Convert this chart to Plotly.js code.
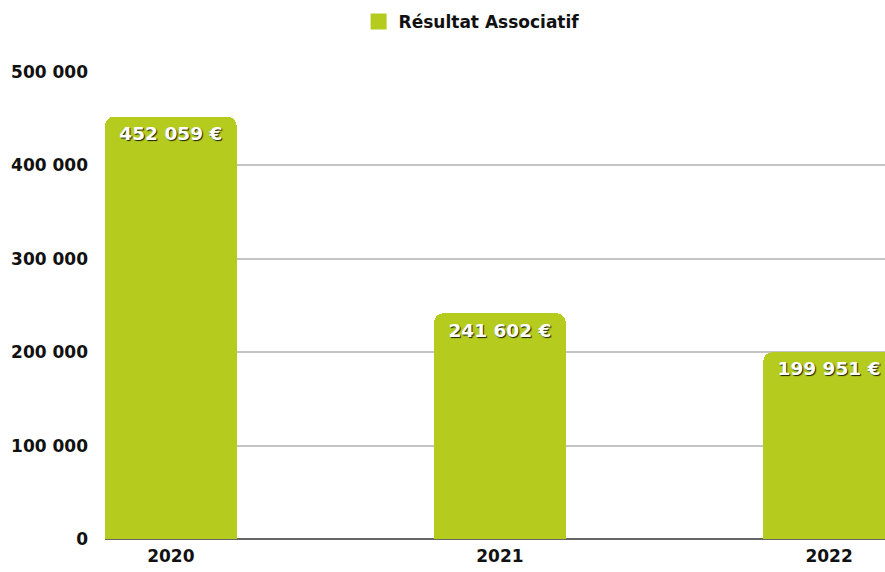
<!DOCTYPE html>
<html>
<head>
<meta charset="utf-8">
<script src="https://cdn.plot.ly/plotly-3.0.1.min.js"></script>
<style>html,body{margin:0;padding:0;background:#fff;}#chart{width:885px;height:572px;}</style>
</head>
<body>
<div id="chart"></div>
<script>
const years = ["2020", "2021", "2022"];
const resultat = [452059, 241602, 199951];
const yTicks = [0, 100000, 200000, 300000, 400000, 500000];
const seriesName = "Résultat Associatif";

const FONT = "'DejaVu Sans', sans-serif";
const GREEN = "#B5CC1F";

const bars = {
  type: "bar",
  name: seriesName,
  x: [0, 1, 2],
  y: resultat,
  width: 0.4,
  marker: { color: GREEN, cornerradius: 9 },
  texttemplate: "%{y:,d} €",
  textposition: "inside",
  insidetextanchor: "end",
  textangle: 0,
  textfont: { family: FONT, size: 18.5, color: "#ffffff", weight: 700, shadow: "1px 1px 1px rgba(0,0,0,0.85)" },
  hoverinfo: "skip",
  showlegend: false
};

// legend entry only (square swatch)
const legendEntry = {
  type: "scatter", mode: "markers", name: seriesName,
  x: [null], y: [null],
  marker: { symbol: "square", size: 16, color: GREEN },
  showlegend: true, hoverinfo: "skip"
};

const layout = {
  width: 885, height: 572,
  margin: { l: 105, r: 0, t: 72, b: 33, pad: 0 },
  paper_bgcolor: "#fff", plot_bgcolor: "#fff",
  separators: ", ",
  font: { family: FONT, color: "#111", size: 17 },
  showlegend: true,
  legend: { orientation: "h", x: 0.47, xanchor: "center", y: 1.107, yanchor: "middle",
            font: { size: 17, weight: 700, color: "#111" }, itemwidth: 30, itemsizing: "trace" },
  xaxis: {
    range: [-0.2, 2.17],
    tickvals: [0, 1, 2], ticktext: years,
    showgrid: false, zeroline: false, showline: false,
    ticks: "", tickfont: { size: 17, weight: 700, color: "#111" }, ticklabelstandoff: 5,
    fixedrange: true
  },
  yaxis: {
    range: [0, 500000],
    tickvals: yTicks, tickformat: ",d",
    showgrid: true, gridcolor: "#c4c4c4", gridwidth: 2,
    zeroline: true, zerolinecolor: "#666", zerolinewidth: 2,
    showline: false, ticks: "",
    tickfont: { size: 17, weight: 700, color: "#111" }, ticklabelstandoff: 16,
    fixedrange: true
  },
  bargap: 0
};

Plotly.newPlot("chart", [bars, legendEntry], layout, { displayModeBar: false, staticPlot: true });
</script>
</body>
</html>
